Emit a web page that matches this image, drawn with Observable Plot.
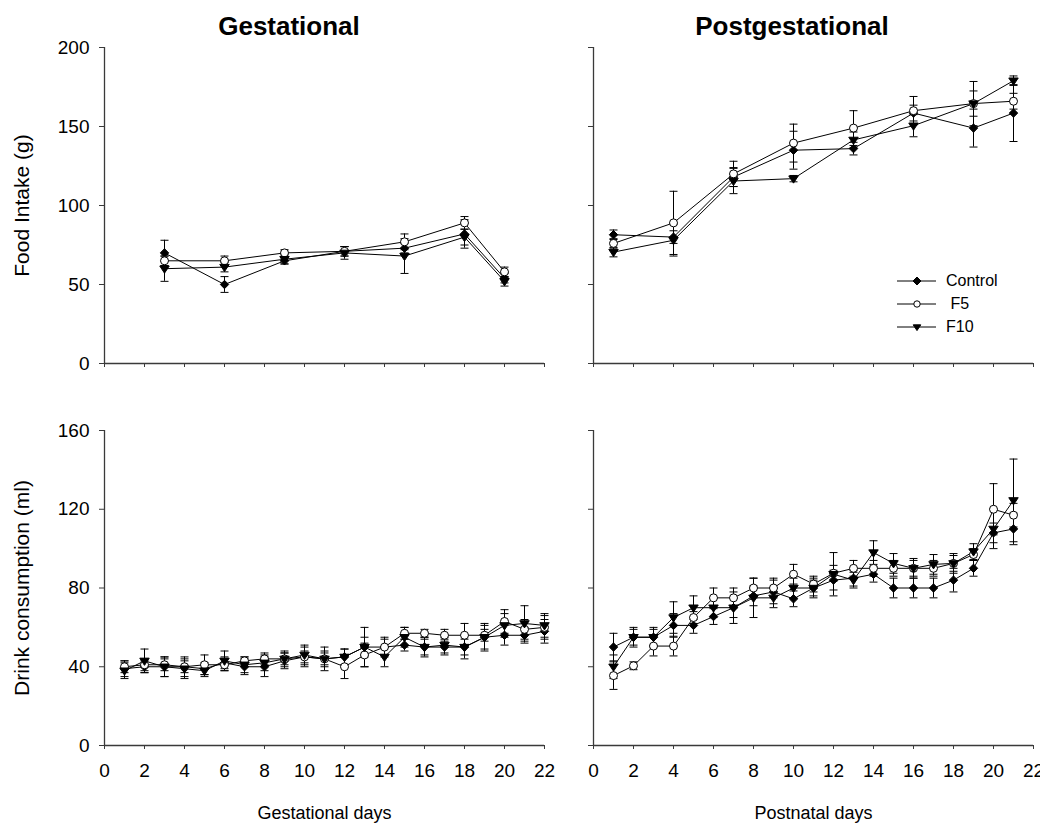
<!DOCTYPE html>
<html><head><meta charset="utf-8">
<script src="https://cdn.jsdelivr.net/npm/d3@7"></script>
<script src="https://cdn.jsdelivr.net/npm/@observablehq/plot@0.6"></script>
<style>
html,body{margin:0;padding:0;background:#fff;overflow:hidden;}
#root{position:relative;width:1040px;height:825px;font-family:"Liberation Sans",Arial,sans-serif;color:#000;}
.panel{position:absolute;}
.title{position:absolute;font-weight:bold;font-size:26px;line-height:26px;text-align:center;width:320px;top:13px;}
.legend{position:absolute;left:897px;top:269px;font-size:16px;}
.legend .row{display:flex;align-items:center;height:23.3px;white-space:pre;}
.legend svg{margin-right:9px;}
</style></head><body><div id="root"></div>
<script>
// ---------- data ----------
const seriesNames = ["Control", "F5", "F10"];
const xTicks = [0, 2, 4, 6, 8, 10, 12, 14, 16, 18, 20, 22];
const foodTicks = [0, 50, 100, 150, 200];
const drinkTicks = [0, 40, 80, 120, 160];

// Gestational food intake (g)
const gestFoodDays = [3, 6, 9, 12, 15, 18, 20];
const gestFoodControl = [70, 50, 65, 71, 73, 82, 54];
const gestFoodControlErr = [8, 5, 2, 3, 3, 9, 3];
const gestFoodF5 = [65, 65, 70, 71, 77, 89, 58];
const gestFoodF5Err = [3, 3, 2, 3, 5, 4, 3];
const gestFoodF10 = [60, 61, 66, 70, 68, 80, 52];
const gestFoodF10Err = [8, 3, 3, 4, 11, 5, 3];

// Postgestational food intake (g)
const postFoodDays = [1, 4, 7, 10, 13, 16, 19, 21];
const postFoodControl = [81.5, 80, 118, 135, 136, 158.5, 149, 158.5];
const postFoodControlErr = [3, 4, 6, 12, 4, 5, 12, 18];
const postFoodF5 = [76, 89, 120, 139.5, 149, 160, 164.5, 166];
const postFoodF5Err = [3, 20, 8, 12, 11, 9, 14, 5];
const postFoodF10 = [70.5, 78, 115.5, 117, 141.5, 150.5, 164.5, 179];
const postFoodF10Err = [3, 10, 8, 2, 5, 7, 8, 3];

// Gestational drink consumption (ml)
const gestDrinkDays = [1, 2, 3, 4, 5, 6, 7, 8, 9, 10, 11, 12, 13, 14, 15, 16, 17, 18, 19, 20, 21, 22];
const gestDrinkControl = [39, 40, 40, 40, 39, 42, 40, 40, 43, 45, 44, 45, 50, 50, 51, 50, 50, 50, 55, 56, 56, 58];
const gestDrinkControlErr = [4, 3, 5, 5, 3, 3, 4, 5, 4, 5, 4, 4, 10, 5, 3, 5, 4, 6, 6, 5, 4, 6];
const gestDrinkF5 = [40, 41, 41, 40, 41, 41, 43, 44, 44, 45, 44, 40, 46, 50, 57, 57, 56, 56, 56, 63, 59, 60];
const gestDrinkF5Err = [3, 3, 3, 3, 5, 3, 2, 3, 3, 3, 3, 6, 6, 4, 3, 2, 3, 6, 3, 6, 5, 6];
const gestDrinkF10 = [38, 43, 40, 39, 38, 43, 41, 42, 44, 46, 44, 45, 50, 45, 55, 50, 51, 50, 55, 61, 62, 61];
const gestDrinkF10Err = [4, 6, 5, 5, 3, 5, 4, 4, 4, 5, 6, 4, 5, 5, 5, 4, 4, 4, 7, 6, 9, 6];

// Postnatal drink consumption (ml)
const postDrinkDays = [1, 2, 3, 4, 5, 6, 7, 8, 9, 10, 11, 12, 13, 14, 15, 16, 17, 18, 19, 20, 21];
const postDrinkControl = [50, 55, 55, 61, 61, 65.5, 70, 76, 78, 74.5, 80, 84, 85, 87, 80, 80, 80, 84, 90, 108, 110];
const postDrinkControlErr = [7, 4, 4, 6, 4, 4, 8, 5, 6, 4, 4, 5, 4, 4, 5, 5, 5, 6, 4, 5, 8];
const postDrinkF5 = [35.5, 40.5, 50.5, 50.5, 65, 75, 75, 80, 80, 87, 82, 87.5, 90, 90, 90, 90, 90, 92.5, 97, 120, 117];
const postDrinkF5Err = [7, 2, 5, 5, 3, 5, 5, 5, 5, 5, 4, 4, 4, 4, 4, 4, 4, 4, 3, 13, 6];
const postDrinkF10 = [40, 55, 55, 65, 70, 70, 70, 75, 75, 80, 80, 87, 84, 98, 92.5, 90, 92, 92.5, 98.5, 110, 124.5];
const postDrinkF10Err = [6, 5, 5, 8, 6, 5, 5, 10, 5, 5, 5, 11, 4, 6, 5, 5, 5, 5, 4, 10, 21];

// ---------- helpers ----------
function toLong(days, vals, errs) {
  const out = [];
  seriesNames.forEach((s, i) => days.forEach((d, j) => out.push({series: s, day: d, value: vals[i][j], err: errs[i][j]})));
  return out;
}
const triangleDown = {draw(ctx, size) {const r = Math.sqrt(size / Math.PI); ctx.moveTo(-r * 1.05, -r * 0.6); ctx.lineTo(r * 1.05, -r * 0.6); ctx.lineTo(0, r); ctx.closePath();}};
const capSymbol = {draw(ctx, size) {const r = Math.sqrt(size / Math.PI); ctx.moveTo(-r, 0); ctx.lineTo(r, 0);}};
const markerStyle = {
  Control: {symbol: "diamond2", fill: "black", r: 3.8},
  F5: {symbol: "circle", fill: "white", r: 4},
  F10: {symbol: triangleDown, fill: "black", r: 4.5}
};
const axisColor = "#3a3a3a";

function panel(o) {
  const marks = [
    Plot.ruleX([0], {stroke: axisColor, strokeWidth: 1.3}),
    Plot.ruleY([o.yDomain[0]], {stroke: axisColor, strokeWidth: 1.3}),
    Plot.axisX({ticks: xTicks, tickSize: 4, tickPadding: 14, tickFormat: o.xLabels ? d => String(d) : () => "", label: null, stroke: axisColor, fill: "black"}),
    Plot.axisY({ticks: o.yTicks, tickSize: 5, tickPadding: 10, tickFormat: o.yLabels ? d => String(d) : () => "", label: null, stroke: axisColor, fill: "black"}),
    Plot.line(o.data, {x: "day", y: "value", z: "series", stroke: "black", strokeWidth: 1}),
    Plot.ruleX(o.data, {x: "day", y1: d => d.value - d.err, y2: d => d.value + d.err, stroke: "black", strokeWidth: 1}),
    Plot.dot(o.data, {x: "day", y: d => d.value + d.err, symbol: capSymbol, r: 4, stroke: "black", fill: "none", strokeWidth: 1}),
    Plot.dot(o.data, {x: "day", y: d => d.value - d.err, symbol: capSymbol, r: 4, stroke: "black", fill: "none", strokeWidth: 1}),
    ...seriesNames.map(s => Plot.dot(o.data.filter(d => d.series === s), {
      x: "day", y: "value", symbol: markerStyle[s].symbol, r: markerStyle[s].r,
      fill: markerStyle[s].fill, stroke: "black", strokeWidth: 1
    }))
  ];
  if (o.yTitle) marks.push(Plot.text([o.yTitle], {text: d => d, frameAnchor: "left", textAnchor: "middle", lineAnchor: "middle", rotate: -90, dx: -82, fontSize: 21, fill: "black"}));
  if (o.xTitle) marks.push(Plot.text([o.xTitle], {text: d => d, frameAnchor: "bottom", textAnchor: "middle", lineAnchor: "middle", dy: 68, fontSize: 18, fill: "black"}));
  const svg = Plot.plot({
    width: o.width, height: o.height,
    marginLeft: o.ml, marginRight: o.mr, marginTop: o.mt, marginBottom: o.mb,
    style: {fontFamily: '"Liberation Sans", Arial, sans-serif', fontSize: "19px", color: "black", background: "transparent", overflow: "visible"},
    x: {domain: [0, 22]},
    y: {domain: o.yDomain},
    marks
  });
  const wrap = document.createElement("div");
  wrap.className = "panel";
  wrap.style.left = o.left + "px";
  wrap.style.top = o.top + "px";
  wrap.appendChild(svg);
  document.getElementById("root").appendChild(wrap);
}

const L = {left: 0, width: 560, ml: 104, mr: 16};
const R = {left: 560, width: 480, ml: 33, mr: 7};
const T = {top: 0, height: 383, mt: 47, mb: 20};
const B = {top: 400, height: 425, mt: 30, mb: 80};

panel({...L, ...T, data: toLong(gestFoodDays, [gestFoodControl, gestFoodF5, gestFoodF10], [gestFoodControlErr, gestFoodF5Err, gestFoodF10Err]),
  yDomain: [0, 200], yTicks: foodTicks, yLabels: true, xLabels: false, yTitle: "Food Intake (g)"});
panel({...R, ...T, data: toLong(postFoodDays, [postFoodControl, postFoodF5, postFoodF10], [postFoodControlErr, postFoodF5Err, postFoodF10Err]),
  yDomain: [0, 200], yTicks: foodTicks, yLabels: false, xLabels: false});
panel({...L, ...B, data: toLong(gestDrinkDays, [gestDrinkControl, gestDrinkF5, gestDrinkF10], [gestDrinkControlErr, gestDrinkF5Err, gestDrinkF10Err]),
  yDomain: [0, 160], yTicks: drinkTicks, yLabels: true, xLabels: true, yTitle: "Drink consumption (ml)", xTitle: "Gestational days"});
panel({...R, ...B, data: toLong(postDrinkDays, [postDrinkControl, postDrinkF5, postDrinkF10], [postDrinkControlErr, postDrinkF5Err, postDrinkF10Err]),
  yDomain: [0, 160], yTicks: drinkTicks, yLabels: false, xLabels: true, xTitle: "Postnatal days"});

// titles
const root = d3.select("#root");
[["Gestational", 129], ["Postgestational", 632]].forEach(([t, x]) => {
  root.append("div").attr("class", "title").style("left", x + "px").text(t);
});

// legend
const legendLabels = ["Control", " F5", "F10"];
const legend = root.append("div").attr("class", "legend");
seriesNames.forEach((s, i) => {
  const row = legend.append("div").attr("class", "row");
  const sv = row.append("svg").attr("width", 40).attr("height", 14);
  sv.append("line").attr("x1", 0).attr("x2", 39).attr("y1", 7).attr("y2", 7).attr("stroke", "black").attr("stroke-width", 1);
  const st = markerStyle[s];
  const sym = st.symbol === "diamond2" ? d3.symbolDiamond2 : st.symbol === "circle" ? d3.symbolCircle : st.symbol;
  const size = (s === "F5" ? 3.2 : 3.6) ** 2 * Math.PI;
  sv.append("path").attr("transform", "translate(20,7)").attr("d", d3.symbol(sym, size)())
    .attr("fill", st.fill).attr("stroke", "black").attr("stroke-width", 1);
  row.append("span").text(legendLabels[i]);
});
</script>
</body></html>
